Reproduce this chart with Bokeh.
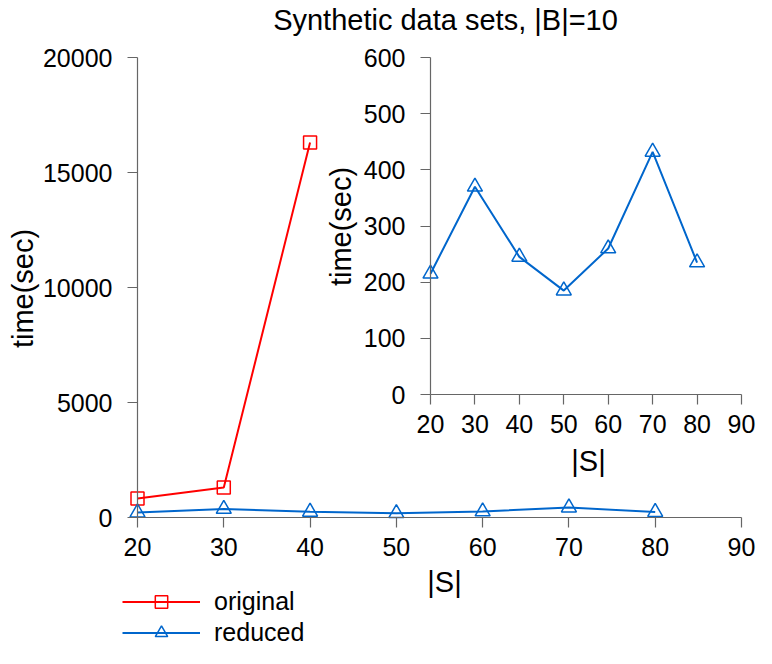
import math
from bokeh.plotting import figure
from bokeh.models import (Legend, LegendItem, FixedTicker, Range1d, LinearAxis,
                          Label)
from bokeh.embed import file_html
from bokeh.resources import INLINE

# ---- data ----
S_values = [20, 30, 40, 50, 60, 70, 80]
original_S = [20, 30, 40]
original_time = [830, 1300, 16300]
reduced_time = [215, 370, 245, 185, 260, 432, 235]

x_ticks = [20, 30, 40, 50, 60, 70, 80, 90]
main_y_ticks = [0, 5000, 10000, 15000, 20000]
inset_y_ticks = [0, 100, 200, 300, 400, 500, 600]

title_text = "Synthetic data sets, |B|=10"
x_label = "|S|"
y_label = "time(sec)"
series_names = ["original", "reduced"]

RED = "#ff0000"
BLUE = "#0066cc"
FONT = "Liberation Sans"
AXIS_COLOR = "#666666"

# ---- layout (pixels within the 756x648 canvas) ----
W, H = 756, 648


def make_range(v0, v1, p0, p1, total):
    """Range whose values v0/v1 fall at pixel offsets p0/p1 (from left / bottom)."""
    s = (v1 - v0) / (p1 - p0)
    return Range1d(v0 - p0 * s, v0 + (total - p0) * s)


main_x = make_range(20, 90, 137, 741, W)
main_y = make_range(0, 20000, H - 517, H - 57, H)
inset_x = make_range(20, 90, 430, 741, W)
inset_y = make_range(0, 600, H - 394, H - 57, H)


def px_to(rng, px, total, from_top=False):
    if from_top:
        px = total - px
    return rng.start + px * (rng.end - rng.start) / total


p = figure(width=W, height=H, x_range=main_x, y_range=main_y,
           output_backend="svg", toolbar_location=None,
           x_axis_location=None, y_axis_location=None,
           min_border=0, min_border_left=0, min_border_right=0,
           min_border_top=0, min_border_bottom=0,
           background_fill_color="white", border_fill_color="white",
           outline_line_color=None)
p.title.visible = False
p.xgrid.visible = False
p.ygrid.visible = False
p.extra_x_ranges = {"inset_x": inset_x}
p.extra_y_ranges = {"inset_y": inset_y}


def style_axis(ax, ticks):
    ax.ticker = FixedTicker(ticks=ticks)
    ax.axis_line_color = AXIS_COLOR
    ax.axis_line_width = 1.2
    ax.major_tick_line_color = AXIS_COLOR
    ax.major_tick_line_width = 1.2
    ax.major_tick_out = 10
    ax.major_tick_in = 0
    ax.minor_tick_line_color = None
    ax.major_label_text_font = FONT
    ax.major_label_text_font_size = "25px"
    ax.major_label_text_color = "black"


# main axes
main_xaxis = LinearAxis(fixed_location=0, bounds=(20, 90))
style_axis(main_xaxis, x_ticks)
main_xaxis.major_label_standoff = 10
main_yaxis = LinearAxis(fixed_location=20, bounds=(0, 20000))
style_axis(main_yaxis, main_y_ticks)
main_yaxis.major_label_standoff = 15
p.add_layout(main_xaxis, "below")
p.add_layout(main_yaxis, "left")

# inset axes
inset_xaxis = LinearAxis(fixed_location=0, bounds=(20, 90),
                         x_range_name="inset_x", y_range_name="inset_y")
style_axis(inset_xaxis, x_ticks)
inset_xaxis.major_label_standoff = 10
inset_yaxis = LinearAxis(fixed_location=20, bounds=(0, 600),
                         x_range_name="inset_x", y_range_name="inset_y")
style_axis(inset_yaxis, inset_y_ticks)
inset_yaxis.major_label_standoff = 15
p.add_layout(inset_xaxis, "below")
p.add_layout(inset_yaxis, "left")

# ---- data marks ----
r1l = p.line(original_S, original_time, line_color=RED, line_width=2)
r1s = p.scatter(original_S, original_time, marker="square", size=13,
                fill_color=None, line_color=RED, line_width=1.5)
r2l = p.line(S_values, reduced_time, line_color=BLUE, line_width=2)
r2s = p.scatter(S_values, reduced_time, marker="triangle", size=15,
                fill_color=None, line_color=BLUE, line_width=1.5)
p.line(S_values, reduced_time, line_color=BLUE, line_width=2,
       x_range_name="inset_x", y_range_name="inset_y")
p.scatter(S_values, reduced_time, marker="triangle", size=15,
          fill_color=None, line_color=BLUE, line_width=1.5,
          x_range_name="inset_x", y_range_name="inset_y")


# ---- texts ----
def add_text(text, px, py, size, angle=0.0):
    p.add_layout(Label(x=px_to(main_x, px, W), y=px_to(main_y, py, H, from_top=True),
                       text=text, text_font=FONT, text_font_size=size,
                       text_color="black", text_align="center",
                       text_baseline="middle", angle=angle))


add_text(title_text, 445, 19, "29px")
add_text(y_label, 22, 288, "29px", angle=math.pi / 2)
add_text(x_label, 444, 581, "29px")
add_text(y_label, 340, 226, "29px", angle=math.pi / 2)
add_text(x_label, 588, 460, "29px")

legend = Legend(items=[LegendItem(label=series_names[0], renderers=[r1l, r1s]),
                       LegendItem(label=series_names[1], renderers=[r2l, r2s])],
                location=(122, 0),
                glyph_width=78, glyph_height=31, label_height=31,
                label_standoff=14, padding=0, spacing=0, margin=0,
                border_line_color=None, background_fill_color=None,
                label_text_font=FONT, label_text_font_size="25px",
                label_text_color="black", label_text_baseline="middle")
p.add_layout(legend)

open("out.html", "w").write(file_html(p, INLINE))
